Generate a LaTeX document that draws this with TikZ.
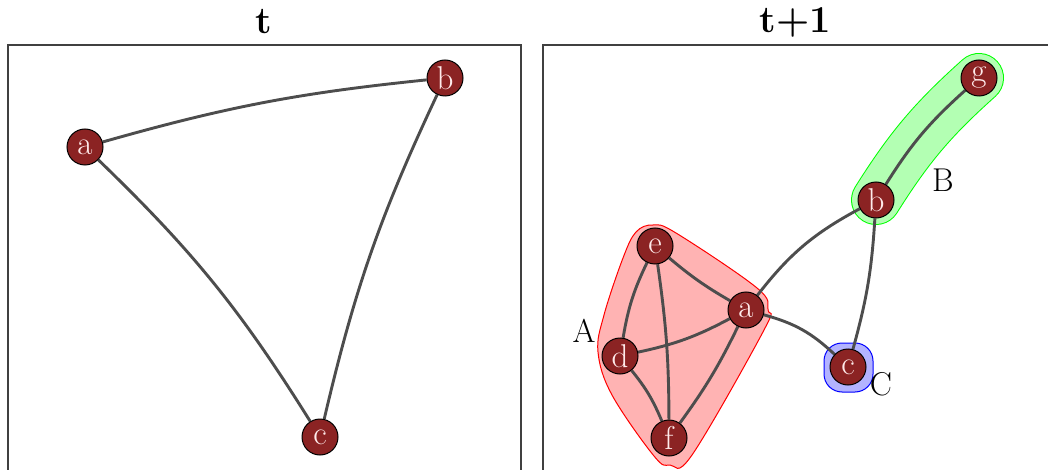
\documentclass[tikz,border=0pt]{standalone}
\definecolor{nodered}{RGB}{139,35,35}
\definecolor{edgegray}{RGB}{77,77,77}
\definecolor{hullred}{RGB}{255,179,179}
\definecolor{hullgreen}{RGB}{179,255,179}
\definecolor{hullblue}{RGB}{179,179,255}
\pgfdeclarelayer{hulls}
\pgfdeclarelayer{edges}
\pgfsetlayers{hulls,edges,main}
\begin{document}
\begin{tikzpicture}[x=0.5pt,y=-0.5pt,
  vert/.style={circle,draw=black,line width=0.5pt,fill=nodered,text=white!92!red,
    minimum size=18pt,inner sep=0pt,font=\fontsize{16.5}{18}\selectfont},
  conn/.style={draw=edgegray,line width=1.45pt},
  frame/.style={draw=black!75,line width=0.6pt},
  title/.style={font=\fontsize{19}{21}\selectfont\bfseries},
  grouplabel/.style={font=\fontsize{16.5}{18}\selectfont}]
\useasboundingbox (0,0) rectangle (1048,470);
\begin{scope}
\clip (0,0) rectangle (1048,470);
% titles
\node[title] (t0) at (264,22) {t};
\node[title] (t1) at (795,22) {t+1};
% frames
\draw[frame] (8,480) -- (8,45) -- (521,45) -- (521,480);
\draw[frame] (543,480) -- (543,45) -- (1060,45);
% left graph
\node[vert] (la) at (85,147) {a};
\node[vert] (lb) at (445,78) {b};
\node[vert] (lc) at (320,437) {c};
% right graph
\node[vert] (g) at (979,78) {g};
\node[vert] (b) at (876,200) {b};
\node[vert] (e) at (655,246) {e};
\node[vert] (a) at (746,310) {a};
\node[vert] (d) at (620,356) {d};
\node[vert] (c) at (848,367) {c};
\node[vert] (f) at (669,438) {f};
% labels
\node[grouplabel] (lA) at (584,331) {A};
\node[grouplabel] (lB) at (943,180) {B};
\node[grouplabel] (lC) at (881,384) {C};
\begin{pgfonlayer}{edges}
\draw[conn] (la) to[bend left=5] (lb);
\draw[conn] (la) to[bend left=7] (lc);
\draw[conn] (lb) to[bend right=6] (lc);
\draw[conn] (b) to[bend left=8] (g);
\draw[conn] (a) to[bend left=12] (b);
\draw[conn] (b) to[bend left=6] (c);
\draw[conn] (a) to[bend left=14] (c);
\draw[conn] (e) to[bend right=5] (a);
\draw[conn] (e) to[bend right=8] (d);
\draw[conn] (e) to[bend left=4] (f);
\draw[conn] (d) to[bend right=8] (a);
\draw[conn] (d) to[bend left=8] (f);
\draw[conn] (a) to[bend left=5] (f);
\end{pgfonlayer}
\begin{pgfonlayer}{hulls}
\draw[red,fill=hullred,line width=0.5pt] plot[smooth cycle,tension=0.6] coordinates
  {(653,225) (676,233) (757,288) (768,310) (764,330) (692,455) (670,465) (654,456)
   (612,395) (598,352) (604,315) (623,258) (636,232)};
\draw[green,line cap=round,line width=25pt] (b.center) to[bend left=8] (g.center);
\draw[hullgreen,line cap=round,line width=24pt] (b.center) to[bend left=8] (g.center);
\draw[blue,fill=hullblue,line width=0.5pt,rounded corners=9pt]
  (824,343) rectangle (873,392);
\end{pgfonlayer}
\end{scope}
\end{tikzpicture}
\end{document}
